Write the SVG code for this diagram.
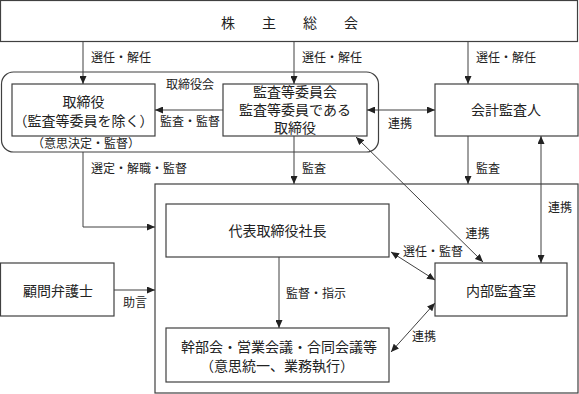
<svg xmlns="http://www.w3.org/2000/svg" width="579" height="394" viewBox="0 0 579 394">
<style>
.box{fill:#fff;stroke:#404040;stroke-width:1.2}
.ln{fill:none;stroke:#404040;stroke-width:1}
.t{font-family:"Liberation Serif","Noto Sans CJK JP",serif;font-size:14px;fill:#222;text-anchor:middle}
.l{font-family:"Liberation Serif","Noto Sans CJK JP",serif;font-size:12px;fill:#222}
.c{text-anchor:middle}
</style>
<defs>
<marker id="ah" markerUnits="userSpaceOnUse" markerWidth="8" markerHeight="7" refX="8" refY="3.5" orient="auto-start-reverse">
<path d="M0,0 L8,3.5 L0,7 z" fill="#222"/>
</marker>
</defs>
<rect width="579" height="394" fill="#fff"/>
<g id="shareholders">
<rect class="box" x="0.5" y="0.5" width="577" height="41"/>
<text class="l" x="221" y="28" style="font-size:14px;letter-spacing:6.5px">株　主　総　会</text>
</g>
<g id="board">
<rect class="box" x="1.5" y="72" width="377" height="80" rx="12" ry="12"/>
<text class="l" x="166" y="89">取締役会</text>
<text class="l c" x="86" y="148">（意思決定・監督）</text>
</g>
<g id="directors">
<rect class="box" x="12" y="84" width="143" height="52"/>
<text class="t" x="83.5" y="107">取締役</text>
<text class="t" x="83.5" y="126">（監査等委員を除く）</text>
</g>
<g id="audit-committee">
<rect class="box" x="223" y="84" width="144" height="52"/>
<text class="t" x="295" y="97">監査等委員会</text>
<text class="t" x="295" y="115">監査等委員である</text>
<text class="t" x="295" y="133">取締役</text>
</g>
<g id="accounting-auditor">
<rect class="box" x="435" y="84" width="143" height="52"/>
<text class="t" x="506" y="115">会計監査人</text>
</g>
<g id="execution">
<rect class="box" x="155" y="184" width="423" height="209"/>
</g>
<g id="president">
<rect class="box" x="166" y="204" width="223" height="53"/>
<text class="t" x="277.5" y="236">代表取締役社長</text>
</g>
<g id="meetings">
<rect class="box" x="166" y="328" width="223" height="54"/>
<text class="t" x="279" y="352">幹部会・営業会議・合同会議等</text>
<text class="t" x="277" y="371">（意思統一、業務執行）</text>
</g>
<g id="lawyer">
<rect class="box" x="0.5" y="263" width="113.5" height="53"/>
<text class="t" x="58" y="296">顧問弁護士</text>
</g>
<g id="internal-audit">
<rect class="box" x="435" y="263" width="132" height="53"/>
<text class="t" x="501" y="296">内部監査室</text>
</g>
<g id="connectors">
<line class="ln" x1="83" y1="42" x2="83" y2="84" marker-end="url(#ah)"/>
<line class="ln" x1="294" y1="42" x2="294" y2="84" marker-end="url(#ah)"/>
<line class="ln" x1="468" y1="42" x2="468" y2="84" marker-end="url(#ah)"/>
<line class="ln" x1="223" y1="110" x2="155" y2="110" marker-end="url(#ah)"/>
<line class="ln" x1="367" y1="110" x2="435" y2="110" marker-start="url(#ah)" marker-end="url(#ah)"/>
<line class="ln" x1="294" y1="136" x2="294" y2="184" marker-end="url(#ah)"/>
<line class="ln" x1="468" y1="136" x2="468" y2="184" marker-end="url(#ah)"/>
<path class="ln" d="M83,152 V227 H155" marker-end="url(#ah)"/>
<line class="ln" x1="279" y1="257" x2="279" y2="328" marker-end="url(#ah)"/>
<line class="ln" x1="114" y1="290" x2="155" y2="290" marker-end="url(#ah)"/>
<line class="ln" x1="356" y1="137" x2="483" y2="262" marker-start="url(#ah)" marker-end="url(#ah)"/>
<line class="ln" x1="391" y1="252" x2="435" y2="280" marker-start="url(#ah)" marker-end="url(#ah)"/>
<line class="ln" x1="435" y1="303" x2="391" y2="352" marker-start="url(#ah)" marker-end="url(#ah)"/>
<line class="ln" x1="541" y1="136" x2="541" y2="263" marker-start="url(#ah)" marker-end="url(#ah)"/>
<text class="l" x="91" y="62">選任・解任</text>
<text class="l" x="302" y="62">選任・解任</text>
<text class="l" x="476" y="62">選任・解任</text>
<text class="l c" x="190" y="126">監査・監督</text>
<text class="l c" x="400" y="128">連携</text>
<text class="l" x="302" y="173">監査</text>
<text class="l" x="476" y="173">監査</text>
<text class="l" x="91" y="173">選定・解職・監督</text>
<text class="l" x="286" y="298">監督・指示</text>
<text class="l c" x="135" y="307">助言</text>
<text class="l c" x="477.5" y="238">連携</text>
<text class="l c" x="433" y="256">選任・監督</text>
<text class="l c" x="560" y="212">連携</text>
<text class="l c" x="424" y="341">連携</text>
</g>
</svg>
